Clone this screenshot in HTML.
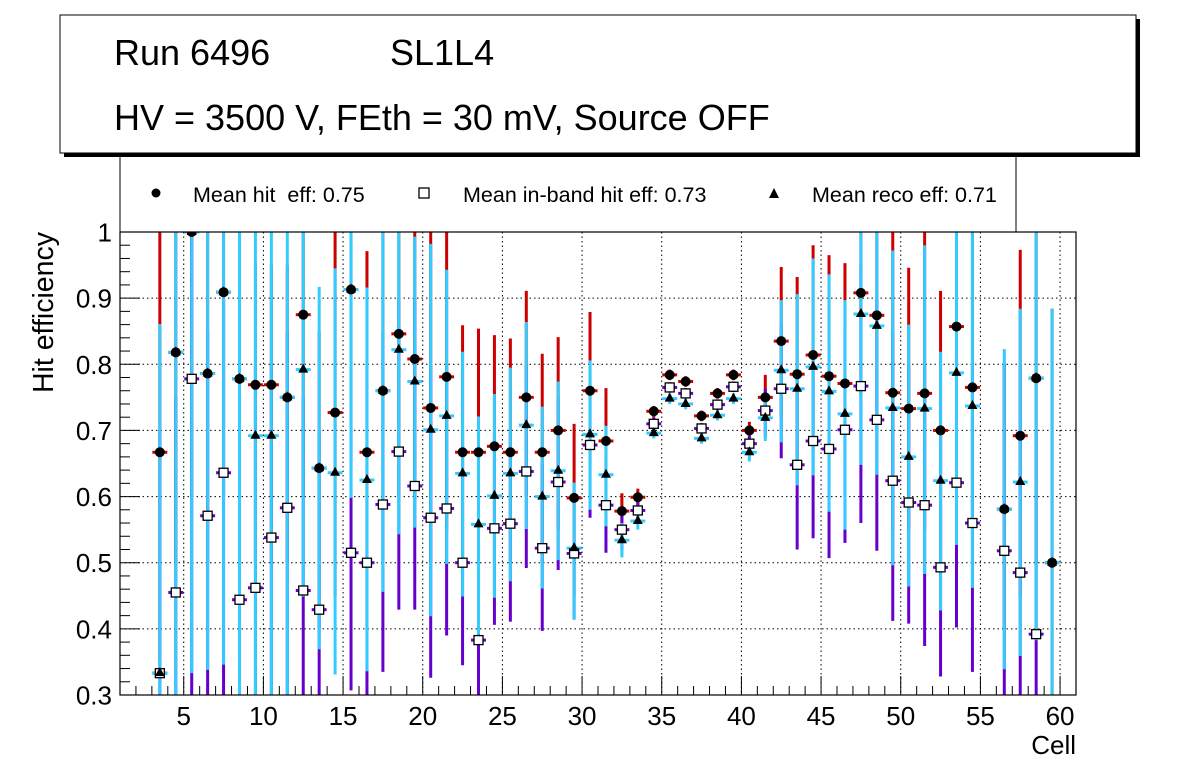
<!DOCTYPE html>
<html><head><meta charset="utf-8"><style>
html,body{margin:0;padding:0;background:#fff;}
svg{display:block;font-family:"Liberation Sans",sans-serif;}
</style></head><body>
<svg id="chart" width="1196" height="772" viewBox="0 0 1196 772" xmlns="http://www.w3.org/2000/svg">
<rect x="0" y="0" width="1196" height="772" fill="#fff"/>
<g>
<rect x="120" y="140" width="896" height="92" fill="#fff" stroke="#000" stroke-width="1"/>
<g><circle cx="156" cy="193" r="4.5" fill="#000"/><text x="193" y="202" font-size="21.5" xml:space="preserve">Mean hit  eff: 0.75</text></g>
<g><rect x="419" y="188" width="10" height="10" fill="#fff" stroke="#000" stroke-width="1.3"/><text x="463" y="202" font-size="21.5">Mean in-band hit eff: 0.73</text></g>
<g><polygon points="774,188 779,198 769,198" fill="#000"/><text x="812" y="202" font-size="21.5">Mean reco eff: 0.71</text></g>
</g>
<g>
<rect x="64" y="19" width="1076" height="138" fill="#000"/>
<rect x="60" y="15" width="1076" height="138" fill="#fff" stroke="#000" stroke-width="1"/>
<text x="114" y="65" font-size="36">Run 6496</text>
<text x="390" y="65" font-size="36">SL1L4</text>
<text x="114" y="130" font-size="36">HV = 3500 V, FEth = 30 mV, Source OFF</text>
</g>
<defs><clipPath id="pc"><rect x="120" y="232" width="956" height="463"/></clipPath></defs>
<g id="grid"></g>
<g id="axes"></g>
<g id="marks" clip-path="url(#pc)"></g>
<rect x="120" y="232" width="956" height="463" fill="none" stroke="#000" stroke-width="1.2"/>
<text transform="translate(53,232) rotate(-90)" text-anchor="end" font-size="28.5">Hit efficiency</text>
<text x="1076" y="754" text-anchor="end" font-size="26">Cell</text>
</svg>
<script>
const cells = [3,4,5,6,7,8,9,10,11,12,13,14,15,16,17,18,19,20,21,22,23,24,25,26,27,28,29,30,31,32,33,34,35,36,37,38,39,40,41,42,43,44,45,46,47,48,49,50,51,52,53,54,56,57,58,59];
const hit   = [0.667,0.818,1.0,0.786,0.909,0.778,0.769,0.769,0.75,0.875,0.643,0.727,0.913,0.667,0.76,0.846,0.808,0.734,0.781,0.667,0.667,0.676,0.667,0.75,0.667,0.70,0.598,0.76,0.684,0.578,0.599,0.729,0.784,0.774,0.722,0.756,0.784,0.70,0.75,0.835,0.785,0.814,0.782,0.771,0.908,0.874,0.757,0.733,0.756,0.70,0.857,0.765,0.581,0.692,0.779,0.5];
const hitLo = [0.35,0.5,0.6,0.5,0.6,0.5,0.5,0.5,0.5,0.6,0.4,0.45,0.65,0.4,0.5,0.6,0.6,0.5,0.55,0.5,0.45,0.5,0.5,0.6,0.5,0.55,0.45,0.65,0.6,0.55,0.585,0.72,0.776,0.766,0.714,0.748,0.776,0.688,0.72,0.72,0.65,0.67,0.62,0.6,0.75,0.7,0.55,0.55,0.55,0.5,0.6,0.55,0.4,0.45,0.5,0.3];
const hitHi = [1.05,1.0,1.0,1.0,1.0,1.0,0.95,0.95,0.95,1.0,0.85,1.05,1.0,0.971,1.0,1.0,1.05,1.05,1.05,0.859,0.854,0.844,0.839,0.911,0.816,0.841,0.71,0.879,0.764,0.605,0.612,0.737,0.792,0.782,0.73,0.764,0.792,0.713,0.784,0.947,0.932,0.98,0.965,0.953,1.05,1.05,1.05,0.946,1.05,0.911,1.05,1.05,0.8,0.973,1.05,0.884];
const inb   = [0.333,0.455,0.778,0.571,0.636,0.444,0.462,0.538,0.583,0.458,0.429,null,0.515,0.5,0.588,0.668,0.616,0.568,0.582,0.5,0.383,0.552,0.559,0.638,0.522,0.622,0.514,0.678,0.587,0.55,0.579,0.71,0.765,0.756,0.703,0.739,0.766,0.68,0.73,0.763,0.648,0.684,0.672,0.701,0.767,0.716,0.624,0.591,0.587,0.493,0.621,0.56,0.518,0.485,0.392,null];
const inbLo = [0.2,0.2,0.25,0.25,0.25,0.2,0.2,0.2,0.25,0.2,0.2,null,0.307,0.2,0.335,0.429,0.429,0.326,0.39,0.345,0.25,0.406,0.411,0.492,0.397,0.489,0.414,0.568,0.515,0.52,0.565,0.7,0.757,0.748,0.695,0.731,0.758,0.668,0.69,0.658,0.52,0.537,0.507,0.53,0.56,0.518,0.412,0.408,0.374,0.328,0.402,0.335,0.2,0.2,0.2,null];
const inbHi = [0.7,0.75,1.0,0.85,0.9,0.8,0.8,0.8,0.85,0.75,0.7,null,0.7,0.8,0.85,0.9,0.9,0.8,0.8,0.7,0.6,0.7,0.7,0.8,0.65,0.75,0.6,0.78,0.66,0.58,0.595,0.72,0.773,0.764,0.711,0.747,0.774,0.692,0.763,0.86,0.78,0.82,0.83,0.85,0.95,0.9,0.85,0.8,0.8,0.7,0.85,0.8,0.8,0.8,0.7,null];
const reco  = [0.333,0.818,1.0,0.786,0.909,0.778,0.692,0.692,0.75,0.792,0.643,0.636,0.913,0.625,0.76,0.822,0.774,0.701,0.722,0.635,0.558,0.601,0.635,0.708,0.6,0.639,0.522,0.694,0.633,0.534,0.563,0.696,0.748,0.74,0.688,0.723,0.748,0.667,0.719,0.791,0.763,0.796,0.759,0.725,0.876,0.858,0.734,0.66,0.733,0.624,0.787,0.737,0.581,0.622,0.779,0.5];
const recoLo= [0.2,0.25,0.333,0.338,0.346,0.25,0.25,0.25,0.25,0.449,0.369,0.331,0.598,0.336,0.456,0.543,0.553,0.419,0.498,0.449,0.391,0.447,0.472,0.551,0.461,0.504,0.414,0.58,0.555,0.508,0.55,0.688,0.74,0.732,0.68,0.715,0.74,0.653,0.684,0.682,0.617,0.632,0.577,0.55,0.648,0.633,0.496,0.464,0.483,0.428,0.527,0.462,0.339,0.359,0.383,0.2];
const recoHi= [0.861,1.05,1.05,1.05,1.05,1.05,1.05,1.05,1.05,1.05,0.917,0.945,1.05,0.916,1.05,1.05,0.993,0.982,0.943,0.819,0.721,0.755,0.795,0.864,0.736,0.774,0.621,0.806,0.707,0.56,0.578,0.705,0.756,0.748,0.696,0.731,0.756,0.68,0.75,0.897,0.906,0.96,0.936,0.897,1.05,1.05,0.972,0.86,0.98,0.819,1.05,1.05,0.823,0.884,1.05,0.884];
const xTicks = [5,10,15,20,25,30,35,40,45,50,55,60];
const yTicks = [0.3,0.4,0.5,0.6,0.7,0.8,0.9,1.0];
const yLabels = ["0.3","0.4","0.5","0.6","0.7","0.8","0.9","1"];

const NS="http://www.w3.org/2000/svg";
const X0=120,X1=1076,Y0=232,Y1=695,XMIN=1,XMAX=61,YMIN=0.3,YMAX=1.0;
function xs(v){return X0+(v-XMIN)/(XMAX-XMIN)*(X1-X0);}
function ys(v){return Y1-(v-YMIN)/(YMAX-YMIN)*(Y1-Y0);}
function mk(tag,at,parent){const e=document.createElementNS(NS,tag);for(const k in at)e.setAttribute(k,at[k]);parent.appendChild(e);return e;}
const grid=document.getElementById('grid'),axes=document.getElementById('axes'),marks=document.getElementById('marks');

xTicks.forEach(t=>{
  const g=mk('line',{x1:xs(t),x2:xs(t),y1:Y0,y2:Y1,stroke:'#000','stroke-width':1,'stroke-dasharray':'1.5,3'},grid);
  
  
  const tk=mk('line',{x1:xs(t),x2:xs(t),y1:Y1,y2:Y1-19,stroke:'#000','stroke-width':1},axes);
  
  
  const lb=mk('text',{x:xs(t),y:725,'text-anchor':'middle','font-size':26},axes);
  lb.textContent=String(t);
  
  
});
for(let v=2;v<=61;v++){ if(v%5===0) continue;
  const m=mk('line',{x1:xs(v),x2:xs(v),y1:Y1,y2:Y1-9,stroke:'#000','stroke-width':1},axes);
  
  
}
yTicks.forEach((t,i)=>{
  if(t>YMIN&&t<YMAX){const g=mk('line',{x1:X0,x2:X1,y1:ys(t),y2:ys(t),stroke:'#000','stroke-width':1,'stroke-dasharray':'1.5,3'},grid);
  
  }
  const tk=mk('line',{x1:X0,x2:X0+20,y1:ys(t),y2:ys(t),stroke:'#000','stroke-width':1},axes);
  
  
  const lb=mk('text',{x:112,y:ys(t)+9.5,'text-anchor':'end','font-size':26},axes);
  lb.textContent=yLabels[i];
  
  
});
for(let k=0;k<=35;k++){const v=0.3+k*0.02; if(k%5===0) continue;
  const m=mk('line',{x1:X0,x2:X0+10,y1:ys(v),y2:ys(v),stroke:'#000','stroke-width':1},axes);
  
  
}

function bars(vals,lo,hi,color,name){
  cells.forEach((c,i)=>{ if(vals[i]===null) return;
    const cx=xs(c+0.5);
    const l=mk('line',{x1:cx,x2:cx,y1:ys(hi[i]),y2:ys(lo[i]),stroke:color,'stroke-width':3},marks);
    
    
    const h=mk('line',{x1:xs(c)+0.5,x2:xs(c+1)-0.5,y1:ys(vals[i]),y2:ys(vals[i]),stroke:color,'stroke-width':3},marks);
    
    
  });
}
bars(hit,hitLo,hitHi,'#cc0000','hit');
bars(inb,inbLo,inbHi,'#6600cc','inband');
bars(reco,recoLo,recoHi,'#33ccff','reco');
cells.forEach((c,i)=>{ if(hit[i]===null) return;
  const p=mk('circle',{cx:xs(c+0.5),cy:ys(hit[i]),r:5,fill:'#000'},marks);
  
  
});
cells.forEach((c,i)=>{ if(inb[i]===null) return;
  const p=mk('rect',{x:xs(c+0.5)-4.5,y:ys(inb[i])-4.5,width:9,height:9,fill:'#fff',stroke:'#000','stroke-width':1.3},marks);
  
  
});
cells.forEach((c,i)=>{ if(reco[i]===null) return;
  const x=xs(c+0.5),y=ys(reco[i]);
  const p=mk('polygon',{points:`${x},${y-6} ${x+5},${y+3} ${x-5},${y+3}`,fill:'#000'},marks);
  
  
});
</script>
</body></html>
